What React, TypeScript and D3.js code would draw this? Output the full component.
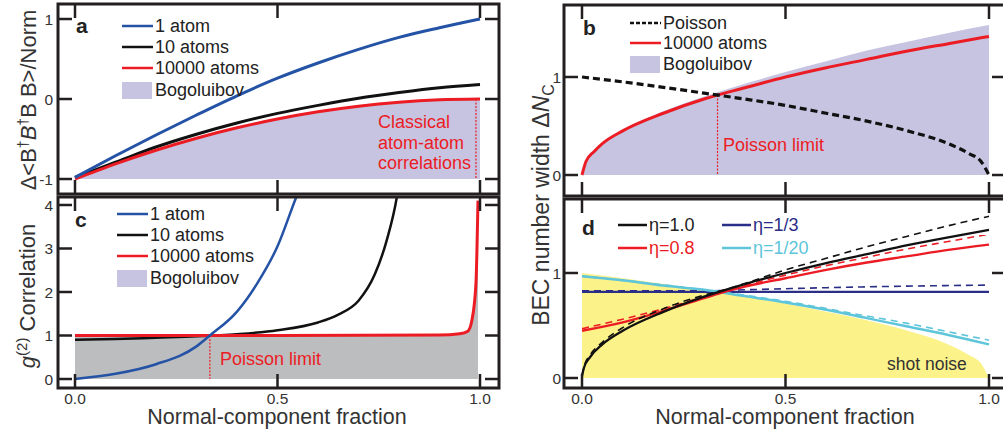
import React from "react"
import * as d3 from "d3"

// ---- data: [normal fraction, value] ----
const xTickValues = [0, 0.5, 1.0]

// panel a: Δ<B†B†BB>/Norm
const aOneAtom = [[0, -0.98], [0.1, -0.71], [0.2, -0.45], [0.3, -0.2], [0.4, 0.04], [0.5, 0.26], [0.6, 0.45], [0.7, 0.62], [0.8, 0.77], [0.9, 0.89], [1.0, 1.0]]
const aTenAtoms = [[0, -0.98], [0.1, -0.79], [0.2, -0.6], [0.3, -0.44], [0.4, -0.3], [0.5, -0.18], [0.6, -0.08], [0.7, 0.01], [0.8, 0.08], [0.9, 0.14], [1.0, 0.18]]
const aManyAtoms = [[0, -1], [0.1, -0.81], [0.2, -0.64], [0.3, -0.49], [0.4, -0.36], [0.5, -0.25], [0.6, -0.16], [0.7, -0.09], [0.8, -0.04], [0.9, -0.01], [1.0, 0]]
const aYTicks = [-1, 0, 1]

// panel b: number width
const bPoisson = [[0, 1], [0.1, 0.95], [0.2, 0.895], [0.3, 0.835], [0.4, 0.775], [0.5, 0.71], [0.6, 0.63], [0.7, 0.55], [0.8, 0.45], [0.9, 0.32], [0.95, 0.22], [0.98, 0.14], [1.0, 0]]
const bManyAtoms = [[0, 0], [0.01, 0.14], [0.03, 0.24], [0.05, 0.32], [0.1, 0.45], [0.2, 0.63], [0.3, 0.775], [0.4, 0.89], [0.5, 1.0], [0.6, 1.095], [0.7, 1.18], [0.8, 1.265], [0.9, 1.34], [1.0, 1.414]]
const bBogoliubov = [[0, 0], [0.01, 0.15], [0.03, 0.26], [0.05, 0.33], [0.1, 0.46], [0.2, 0.65], [0.3, 0.8], [0.4, 0.93], [0.5, 1.05], [0.6, 1.16], [0.7, 1.27], [0.8, 1.36], [0.9, 1.45], [1.0, 1.53]]
const bYTicks = [0, 1]

// panel c: g(2)
const cOneAtom = [[0, 0], [0.1, 0.12], [0.2, 0.34], [0.3, 0.75], [0.333, 1.0], [0.4, 1.55], [0.45, 2.2], [0.5, 3.05], [0.545, 4.15], [0.56, 4.5]]
const cTenAtoms = [[0, 0.9], [0.1, 0.92], [0.2, 0.95], [0.3, 0.98], [0.4, 1.03], [0.5, 1.12], [0.6, 1.3], [0.65, 1.48], [0.7, 1.8], [0.74, 2.4], [0.77, 3.2], [0.795, 4.2], [0.8, 4.5]]
const cManyAtoms = [[0, 1], [0.5, 1], [0.9, 1.01], [0.95, 1.04], [0.97, 1.1], [0.98, 1.35], [0.99, 2.2], [0.995, 4.1]]
const cYTicks = [0, 1, 2, 3, 4]

// panel d: detection efficiency η (solid / dashed)
const dShotNoise = [[0, 1], [0.1, 0.95], [0.2, 0.895], [0.3, 0.835], [0.4, 0.775], [0.5, 0.71], [0.6, 0.63], [0.7, 0.55], [0.8, 0.45], [0.9, 0.32], [0.95, 0.22], [0.98, 0.14], [1.0, 0]]
const dEta10 = [[0, 0.02], [0.005, 0.1], [0.02, 0.2], [0.05, 0.32], [0.1, 0.45], [0.2, 0.63], [0.3, 0.775], [0.4, 0.895], [0.5, 1.0], [0.6, 1.095], [0.7, 1.18], [0.8, 1.265], [0.9, 1.34], [1.0, 1.41]]
const dEta10Dash = [[0, 0.02], [0.005, 0.11], [0.02, 0.22], [0.05, 0.34], [0.1, 0.48], [0.2, 0.66], [0.3, 0.79], [0.35, 0.84], [0.4, 0.9], [0.5, 1.03], [0.6, 1.14], [0.7, 1.25], [0.8, 1.35], [0.9, 1.45], [1.0, 1.54]]
const dEta08 = [[0, 0.45], [0.1, 0.53], [0.2, 0.64], [0.3, 0.76], [0.35, 0.82], [0.4, 0.87], [0.5, 0.95], [0.6, 1.03], [0.7, 1.1], [0.8, 1.16], [0.9, 1.22], [1.0, 1.27]]
const dEta08Dash = [[0, 0.47], [0.1, 0.56], [0.2, 0.66], [0.3, 0.77], [0.35, 0.82], [0.4, 0.88], [0.5, 0.98], [0.6, 1.07], [0.7, 1.15], [0.8, 1.23], [0.9, 1.3], [1.0, 1.37]]
const dEta13 = [[0, 0.82], [1.0, 0.82]]
const dEta13Dash = [[0, 0.83], [0.3, 0.83], [0.4, 0.84], [0.6, 0.86], [0.8, 0.875], [1.0, 0.885]]
const dEta20 = [[0, 0.97], [0.1, 0.93], [0.2, 0.88], [0.3, 0.84], [0.4, 0.78], [0.5, 0.72], [0.6, 0.65], [0.7, 0.57], [0.8, 0.49], [0.9, 0.41], [1.0, 0.32]]
const dEta20Dash = [[0, 0.97], [0.3, 0.84], [0.5, 0.73], [0.7, 0.59], [0.8, 0.52], [0.9, 0.44], [1.0, 0.36]]
const dYTicks = [0, 1]

const poissonLimit = 0.333
const classicalLimit = 0.99

const FONT = "'Liberation Sans', Arial, Helvetica, sans-serif"
const INK = "#231f20"
const RED = "#ec1c24"
const BLUE = "#2453a6"
const NAVY = "#2b2e86"
const CYAN = "#5ec5da"
const LAVENDER = "#c6c4e1"
const GREY = "#bcbdbf"
const YELLOW = "#fcf28a"

type Pt = number[]

function Panel({ id, frame, xRange, yDomain, yRange, yTicks, labelRight, xLabels, children }) {
    const [x0, y0, x1, y1] = frame
    const x = d3.scaleLinear().domain([0, 1]).range(xRange)
    const y = d3.scaleLinear().domain(yDomain).range(yRange)
    const t = 14
    return (
        <g>
            <clipPath id={id}>
                <rect x={x0} y={y0} width={x1 - x0} height={y1 - y0} />
            </clipPath>
            <g clipPath={`url(#${id})`}>{children(x, y)}</g>
            <g stroke={INK} strokeWidth={2.5}>
                {xTickValues.map((v) => (
                    <g key={"x" + v}>
                        <line x1={x(v)} x2={x(v)} y1={y0} y2={y0 + t} />
                        <line x1={x(v)} x2={x(v)} y1={y1} y2={y1 - t} />
                    </g>
                ))}
                {yTicks.map((v) => (
                    <g key={"y" + v}>
                        <line x1={x0} x2={x0 + t} y1={y(v)} y2={y(v)} />
                        <line x1={x1} x2={x1 - t} y1={y(v)} y2={y(v)} />
                    </g>
                ))}
            </g>
            <rect x={x0} y={y0} width={x1 - x0} height={y1 - y0} fill="none" stroke={INK} strokeWidth={3} />
            {yTicks.map((v) => (
                <text key={"l" + v} x={labelRight} y={y(v) + 5.5} textAnchor="end" fontSize={15.5} fill="#333">
                    {v}
                </text>
            ))}
            {xLabels &&
                xTickValues.map((v) => (
                    <text key={"xl" + v} x={x(v)} y={404} textAnchor="middle" fontSize={15.5} fill="#333">
                        {d3.format(".1f")(v)}
                    </text>
                ))}
        </g>
    )
}

const line = (x, y, data: Pt[]) =>
    d3.line<Pt>().x((d) => x(d[0])).y((d) => y(d[1])).curve(d3.curveMonotoneX)(data)

const area = (x, y, data: Pt[], base: number) =>
    d3.area<Pt>().x((d) => x(d[0])).y0(y(base)).y1((d) => y(d[1])).curve(d3.curveMonotoneX)(data)

function LegendLine({ x, y, color, dash, text, textColor, w = 31 }) {
    return (
        <g>
            <line x1={x} x2={x + w} y1={y} y2={y} stroke={color} strokeWidth={2.5} strokeDasharray={dash} />
            <text x={x + w + 2} y={y + 6} fontSize={18} fill={textColor || "#222"}>
                {text}
            </text>
        </g>
    )
}

function LegendBox({ x, y, text }) {
    return (
        <g>
            <rect x={x} y={y - 8} width={30} height={17} fill={LAVENDER} />
            <text x={x + 33} y={y + 6} fontSize={18} fill="#222">
                {text}
            </text>
        </g>
    )
}

export default function App() {
    return (
        <svg width={1003} height={432} style={{ position: "absolute", left: 0, top: 0, background: "#fff" }} fontFamily={FONT}>
            {/* panel a */}
            <Panel id="ca" frame={[58, 4, 499, 194]} xRange={[75, 480]} yDomain={[-1, 1]} yRange={[179, 19]} yTicks={aYTicks} labelRight={53} xLabels={false}>
                {(x, y) => (
                    <g>
                        <path d={area(x, y, aManyAtoms, -1)} fill={LAVENDER} />
                        <line x1={x(classicalLimit)} x2={x(classicalLimit)} y1={y(0)} y2={y(-1)} stroke={RED} strokeWidth={1.2} strokeDasharray="2,1.5" />
                        <path d={line(x, y, aTenAtoms)} fill="none" stroke="#111" strokeWidth={3} />
                        <path d={line(x, y, aManyAtoms)} fill="none" stroke={RED} strokeWidth={3} />
                        <path d={line(x, y, aOneAtom)} fill="none" stroke={BLUE} strokeWidth={3} />
                    </g>
                )}
            </Panel>
            <text x={76} y={33} fontSize={21} fontWeight="bold" fill="#222">a</text>
            <LegendLine x={122} y={26} color={BLUE} text="1 atom" />
            <LegendLine x={122} y={47} color="#111" text="10 atoms" />
            <LegendLine x={122} y={68} color={RED} text="10000 atoms" />
            <LegendBox x={122} y={90} text="Bogoluibov" />
            <text fontSize={18} fill={RED}>
                <tspan x={378} y={128}>Classical</tspan>
                <tspan x={378} y={149}>atom-atom</tspan>
                <tspan x={378} y={169}>correlations</tspan>
            </text>

            {/* panel c */}
            <Panel id="cc" frame={[58, 197, 499, 388]} xRange={[75, 480]} yDomain={[0, 4]} yRange={[379, 205]} yTicks={cYTicks} labelRight={53} xLabels={true}>
                {(x, y) => (
                    <g>
                        <path d={area(x, y, cManyAtoms, 0)} fill={GREY} />
                        <line x1={x(poissonLimit)} x2={x(poissonLimit)} y1={y(1)} y2={y(0)} stroke={RED} strokeWidth={1.2} strokeDasharray="2,1.5" />
                        <path d={line(x, y, cTenAtoms)} fill="none" stroke="#111" strokeWidth={2.5} />
                        <path d={line(x, y, cManyAtoms)} fill="none" stroke={RED} strokeWidth={3} />
                        <path d={line(x, y, cOneAtom)} fill="none" stroke={BLUE} strokeWidth={2.5} />
                    </g>
                )}
            </Panel>
            <text x={75} y={227} fontSize={21} fontWeight="bold" fill="#222">c</text>
            <LegendLine x={117} y={214} color={BLUE} text="1 atom" />
            <LegendLine x={117} y={235} color="#111" text="10 atoms" />
            <LegendLine x={117} y={256} color={RED} text="10000 atoms" />
            <LegendBox x={117} y={278} text="Bogoluibov" />
            <text x={220} y={365} fontSize={18} fill={RED}>Poisson limit</text>

            {/* panel b */}
            <Panel id="cb" frame={[564, 5, 1006, 196]} xRange={[582, 989]} yDomain={[0, 1]} yRange={[175, 77]} yTicks={bYTicks} labelRight={561} xLabels={false}>
                {(x, y) => (
                    <g>
                        <path d={area(x, y, bBogoliubov, 0)} fill={LAVENDER} />
                        <line x1={x(poissonLimit)} x2={x(poissonLimit)} y1={y(0.816)} y2={y(0)} stroke={RED} strokeWidth={1.2} strokeDasharray="2,1.5" />
                        <path d={line(x, y, bManyAtoms)} fill="none" stroke={RED} strokeWidth={3} />
                        <path d={line(x, y, bPoisson)} fill="none" stroke="#111" strokeWidth={3.2} strokeDasharray="7,4" />
                    </g>
                )}
            </Panel>
            <text x={583} y={35} fontSize={21} fontWeight="bold" fill="#222">b</text>
            <LegendLine x={630} y={23} color="#111" dash="4,2" text="Poisson" />
            <LegendLine x={630} y={43} color={RED} text="10000 atoms" />
            <LegendBox x={630} y={64} text="Bogoluibov" />
            <text x={723} y={151} fontSize={18} fill={RED}>Poisson limit</text>

            {/* panel d */}
            <Panel id="cd" frame={[564, 199, 1006, 388]} xRange={[582, 989]} yDomain={[0, 1]} yRange={[378, 273]} yTicks={dYTicks} labelRight={561} xLabels={true}>
                {(x, y) => (
                    <g fill="none">
                        <path d={area(x, y, dShotNoise, 0)} fill={YELLOW} />
                        <path d={line(x, y, dEta13Dash)} stroke={NAVY} strokeWidth={1.6} strokeDasharray="7,5" />
                        <path d={line(x, y, dEta13)} stroke={NAVY} strokeWidth={2.3} />
                        <path d={line(x, y, dEta20Dash)} stroke={CYAN} strokeWidth={1.6} strokeDasharray="7,5" />
                        <path d={line(x, y, dEta20)} stroke={CYAN} strokeWidth={2.5} />
                        <path d={line(x, y, dEta08Dash)} stroke={RED} strokeWidth={1.6} strokeDasharray="7,5" />
                        <path d={line(x, y, dEta08)} stroke={RED} strokeWidth={2.3} />
                        <path d={line(x, y, dEta10Dash)} stroke="#111" strokeWidth={1.6} strokeDasharray="7,5" />
                        <path d={line(x, y, dEta10)} stroke="#111" strokeWidth={2.3} />
                    </g>
                )}
            </Panel>
            <text x={582} y={235} fontSize={21} fontWeight="bold" fill="#222">d</text>
            <LegendLine x={618} y={225} w={29} color="#111" text="η=1.0" textColor="#222" />
            <LegendLine x={618} y={248} w={29} color={RED} text="η=0.8" textColor={RED} />
            <LegendLine x={722} y={225} w={29} color={NAVY} text="η=1/3" textColor={NAVY} />
            <LegendLine x={722} y={248} w={29} color={CYAN} text="η=1/20" textColor={CYAN} />
            <text x={887} y={370} fontSize={17.5} fill="#333">shot noise</text>

            {/* axis titles */}
            <text transform="translate(36,100) rotate(-90)" textAnchor="middle" fontSize={22} fill="#333">
                Δ&lt;B<tspan dy={-8} fontSize={14}>†</tspan>
                <tspan dy={8} fontStyle="italic">B</tspan>
                <tspan dy={-8} fontSize={14}>†</tspan>
                <tspan dy={8}>B B&gt;/Norm</tspan>
            </text>
            <text transform="translate(35,296) rotate(-90)" textAnchor="middle" fontSize={22} fill="#333">
                <tspan fontStyle="italic">g</tspan>
                <tspan dy={-8} fontSize={15}>(2)</tspan>
                <tspan dy={8}> Correlation</tspan>
            </text>
            <text transform="translate(549,205) rotate(-90)" textAnchor="middle" fontSize={23} fill="#333">
                BEC number width Δ<tspan fontStyle="italic">N</tspan>
                <tspan dy={5} fontSize={16}>C</tspan>
            </text>
            <text x={277} y={424} textAnchor="middle" fontSize={21.5} fill="#333">Normal-component fraction</text>
            <text x={785} y={424} textAnchor="middle" fontSize={21.5} fill="#333">Normal-component fraction</text>
        </svg>
    )
}
